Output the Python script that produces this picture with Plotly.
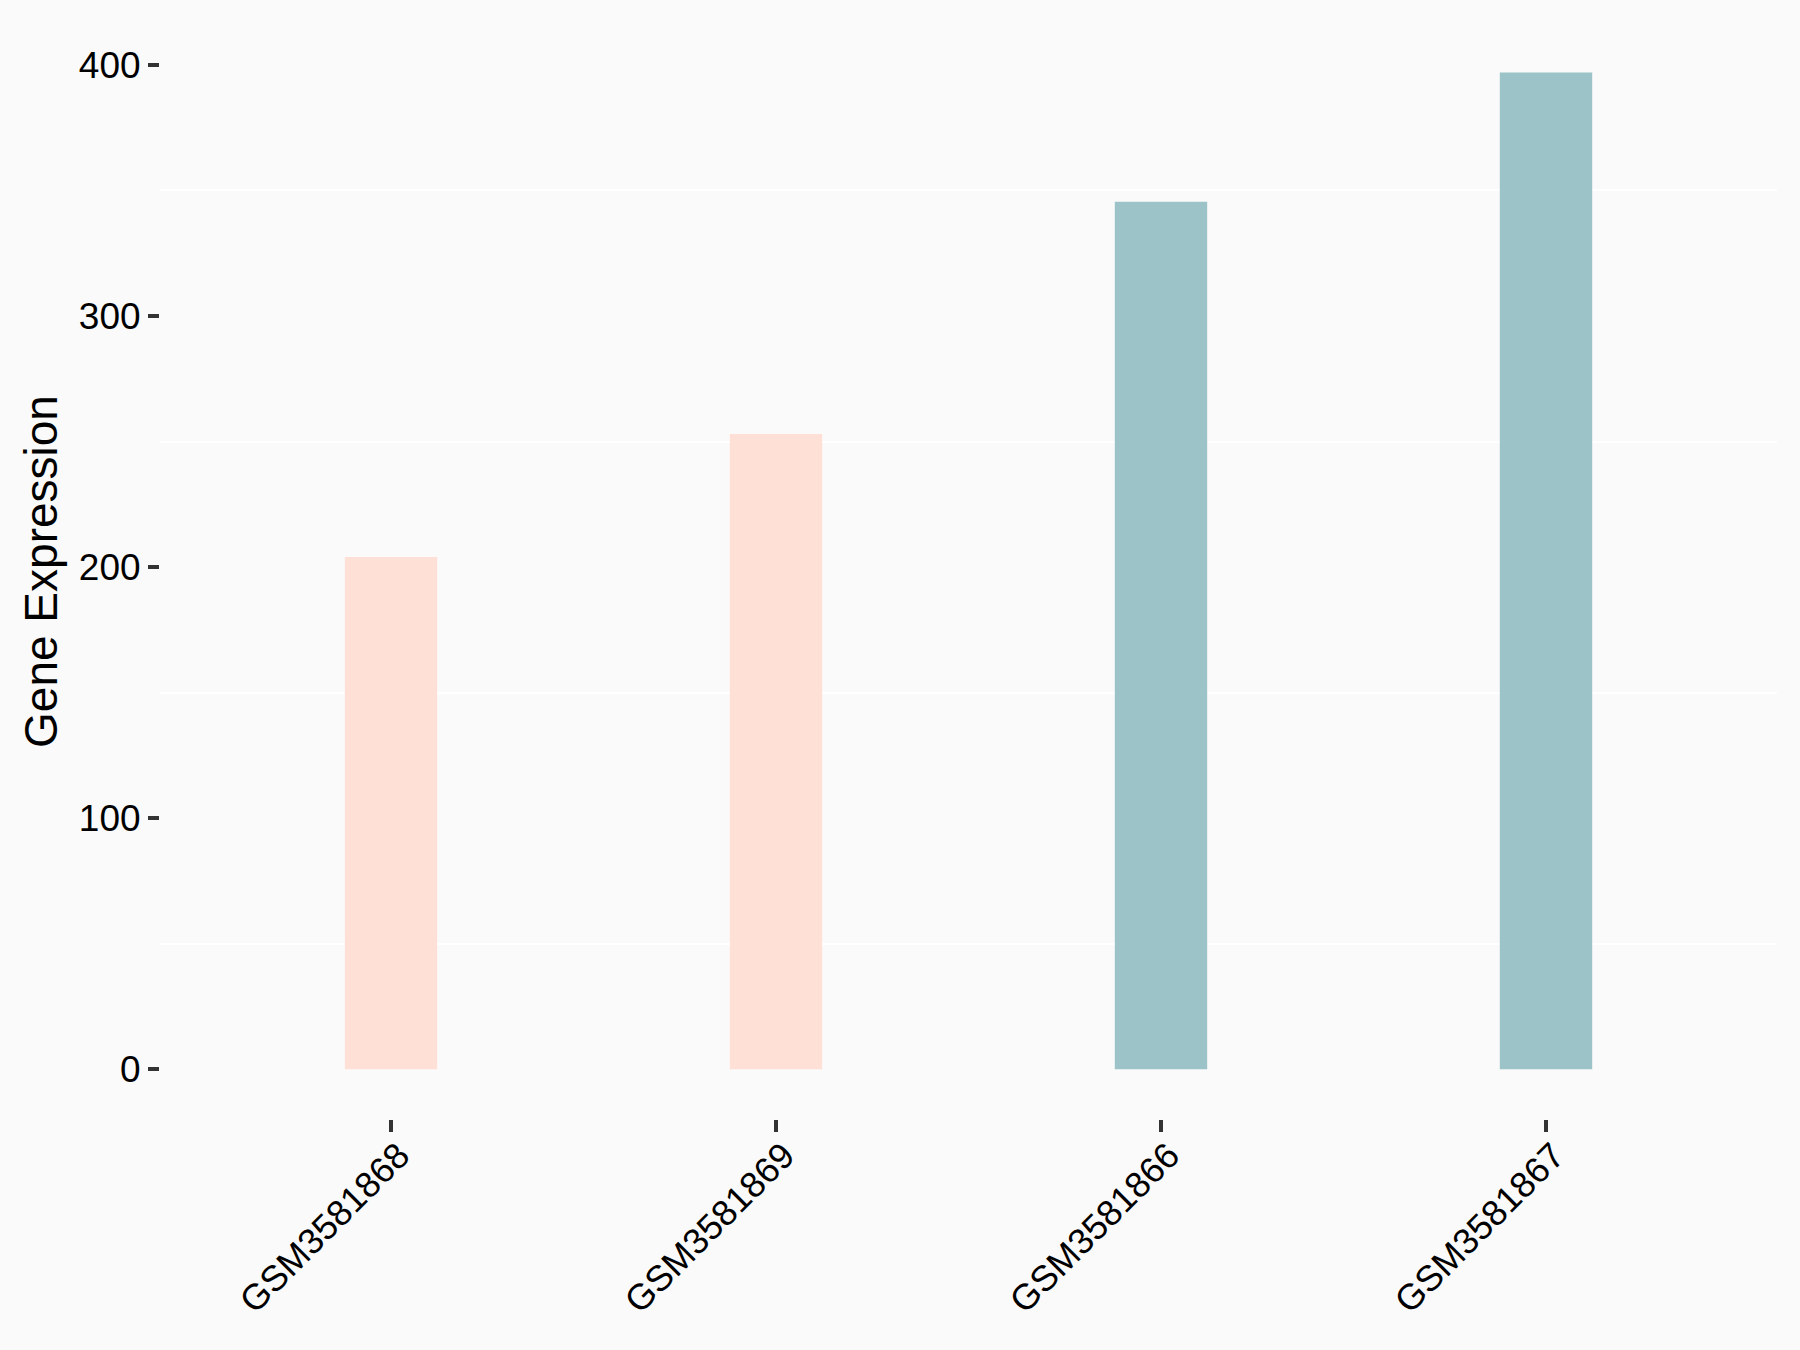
import plotly.graph_objects as go

samples = ["GSM3581868", "GSM3581869", "GSM3581866", "GSM3581867"]
expression = [204, 253, 345.5, 397]
groups = ["A", "A", "B", "B"]
group_colors = {"A": "#FEE0D6", "B": "#9CC3C7"}
y_ticks = [0, 100, 200, 300, 400]
y_minor = [50, 150, 250, 350]

fig = go.Figure()
fig.add_trace(go.Bar(
    x=samples, y=expression,
    marker=dict(color=[group_colors[g] for g in groups], line=dict(width=0)),
    width=0.24, showlegend=False,
))

font_family = "Liberation Sans, Arial, sans-serif"
fig.update_layout(
    width=1800, height=1350,
    paper_bgcolor="#FAFAFA", plot_bgcolor="#FAFAFA",
    margin=dict(l=160, r=23, t=24, b=231),
    font=dict(family=font_family, color="black", size=36),
)
fig.update_xaxes(
    type="category", range=[-0.6, 3.6],
    showgrid=False, zeroline=False, showline=False,
    ticks="outside", ticklen=12, tickwidth=4, tickcolor="#333333",
    tickangle=-45, tickfont=dict(size=36, color="black"),
    ticklabelstandoff=-12, ticklabelshift=8,
)
fig.update_yaxes(
    range=[-19.8, 416.3],
    tickvals=y_ticks, ticktext=[str(v) for v in y_ticks],
    showgrid=False, zeroline=False, showline=False,
    ticks="outside", ticklen=11, tickwidth=4, tickcolor="#333333",
    tickfont=dict(size=37, color="black"),
    title=dict(text="Gene Expression", font=dict(size=46, color="black"), standoff=6),
    minor=dict(tickvals=y_minor, showgrid=True, gridcolor="white", gridwidth=2, ticks=""),
)

fig.write_html(
    "out.html",
    config={"displayModeBar": False},
    post_script="document.body.style.margin='0';document.body.style.background='#FAFAFA';",
)
